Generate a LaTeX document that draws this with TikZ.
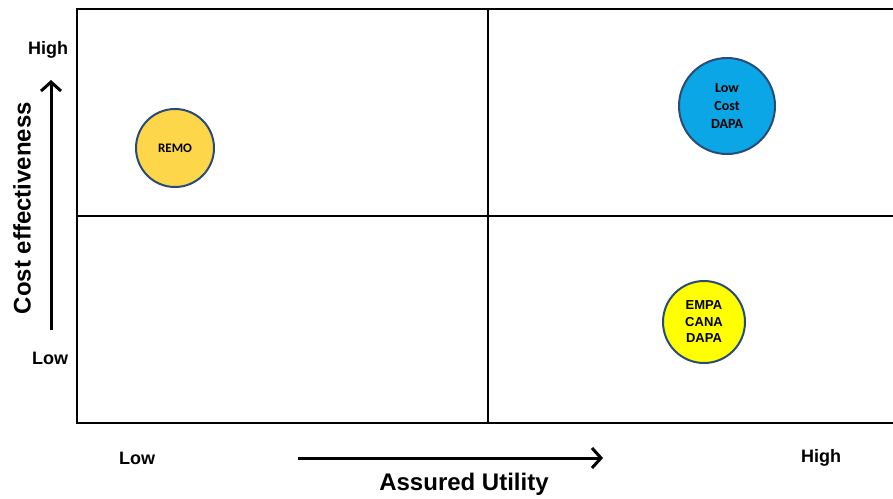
\documentclass[tikz,border=0pt]{standalone}
\usepackage{fontspec}
\setmainfont{Liberation Sans}
\newfontfamily\calfont{Carlito}
\usetikzlibrary{arrows.meta}
\definecolor{remofill}{HTML}{FDD64A}
\definecolor{bluefill}{HTML}{0AA6E6}
\definecolor{yelfill}{HTML}{FFFF00}
\definecolor{ringcol}{HTML}{2A4A78}
\tikzset{
  frameline/.style={line width=2pt,black},
  axisarrow/.style={line width=3pt,-{Straight Barb[length=9pt,width=20pt,line width=3pt]}},
  bubble/.style={circle,draw=ringcol,line width=2pt,inner sep=0pt,align=center,font=\bfseries},
  ticklbl/.style={font=\fontsize{18}{20}\selectfont\bfseries},
  axislbl/.style={font=\fontsize{24}{26}\selectfont\bfseries}
}
\begin{document}
\begin{tikzpicture}[x=1pt,y=-1pt]
\useasboundingbox (0,0) rectangle (893,498);
\fill[white] (0,0) rectangle (893,498);
% frame
\coordinate (tl) at (77,9);
\coordinate (tr) at (893,9);
\coordinate (bl) at (77,423);
\coordinate (br) at (893,423);
\coordinate (ml) at (77,216);
\coordinate (mr) at (893,216);
\coordinate (mt) at (488,9);
\coordinate (mb) at (488,423);
\draw[frameline] (tr) -- (tl) -- (bl) -- (br);
\draw[frameline] (ml) -- (mr);
\draw[frameline] (mt) -- (mb);
% bubbles
\node[bubble,fill=remofill,minimum size=78pt,font=\calfont\bfseries\fontsize{13}{14}\selectfont] (remo) at (175,148) {REMO};
\node[bubble,fill=bluefill,minimum size=96pt,font=\calfont\bfseries\fontsize{14}{18}\selectfont] (lcd) at (727,106) {Low\\Cost\\DAPA};
\node[bubble,fill=yelfill,minimum size=82pt,font=\bfseries\fontsize{13}{16.5}\selectfont] (ecd) at (704,322) {EMPA\\CANA\\DAPA};
% y axis
\node[ticklbl] (yhigh) at (48,50) {High};
\node[ticklbl] (ylow) at (50,358) {Low};
\node[axislbl,rotate=90] (ylbl) at (22,208) {Cost effectiveness};
\coordinate (ya) at (51,330);
\coordinate (yb) at (51,80);
\draw[axisarrow] (ya) -- (yb);
% x axis
\node[ticklbl] (xlow) at (137,458) {Low};
\node[ticklbl] (xhigh) at (821,458) {High};
\node[axislbl] (xlbl) at (464,484) {Assured Utility};
\coordinate (xa) at (298,458);
\coordinate (xb) at (603,458);
\draw[axisarrow] (xa) -- (xb);
\end{tikzpicture}
\end{document}
